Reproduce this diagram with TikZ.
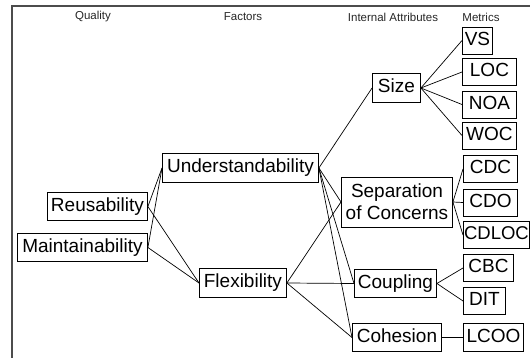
\documentclass[tikz,border=0pt]{standalone}
\usepackage{fontspec}
\setmainfont{Liberation Sans}
\begin{document}
\begin{tikzpicture}[x=1pt,y=-1pt,
  box/.style={draw=black, line width=0.9pt, inner sep=0pt, anchor=west,
    font=\fontsize{19}{22}\selectfont, text height=13.7pt, text depth=4pt,
    minimum height=28.5pt, align=center},
  head/.style={font=\fontsize{11.5}{13}\selectfont, text=black!85, inner sep=0pt},
  conn/.style={draw=black, line width=0.7pt}]
\useasboundingbox (0,0) rectangle (530,358);
\draw[line width=1.4pt, draw=black!70] (12,358) -- (12,6) -- (531,6);
% headings
\node[head] (hq) at (93,17) {Quality};
\node[head] (hf) at (243,17) {Factors};
\node[head] (hi) at (393,17) {Internal Attributes};
\node[head] (hm) at (481,17) {Metrics};
% quality
\node[box, minimum width=100pt] (reu) at (47,206.5) {Reusability};
\node[box, minimum width=130pt] (mai) at (17,247.5) {Maintainability};
% factors
\node[box, minimum width=156pt] (und) at (162,168) {Understandability};
\node[box, minimum width=87pt] (fle) at (199,283) {Flexibility};
% internal attributes
\node[box, minimum width=48pt] (siz) at (372,88) {Size};
\node[box, minimum width=111pt, minimum height=50pt, text height=, text depth=] (soc) at (341,202) {Separation\\of Concerns};
\node[box, minimum width=82pt] (cou) at (354,283.5) {Coupling};
\node[box, minimum width=89pt] (coh) at (352,337.5) {Cohesion};
% metrics
\node[box, minimum width=30pt, minimum height=27pt] (vs) at (462,40.5) {VS};
\node[box, minimum width=54pt, minimum height=27pt] (loc) at (462,72) {LOC};
\node[box, minimum width=54pt, minimum height=27pt] (noa) at (462,104.5) {NOA};
\node[box, minimum width=54pt, minimum height=27pt] (woc) at (462,135.5) {WOC};
\node[box, minimum width=54pt, minimum height=27pt] (cdc) at (463,169) {CDC};
\node[box, minimum width=54pt, minimum height=27pt] (cdo) at (463,202.5) {CDO};
\node[box, minimum width=66pt, minimum height=27pt, font=\fontsize{18.5}{22}\selectfont] (cdl) at (463,235) {CDLOC};
\node[box, minimum width=50pt, minimum height=27pt] (cbc) at (463,268) {CBC};
\node[box, minimum width=42pt, minimum height=27pt] (dit) at (463,301) {DIT};
\node[box, minimum width=60pt] (lco) at (463,337.5) {LCOO};
% connectors
\draw[conn] (reu.east) -- (und.west);
\draw[conn] (reu.east) -- (fle.west);
\draw[conn] (mai.east) -- (und.west);
\draw[conn] (mai.east) -- (fle.west);
\draw[conn] (und.east) -- (siz.west);
\draw[conn] (und.east) -- (soc.west);
\draw[conn] (und.east) -- (cou.west);
\draw[conn] (und.east) -- (coh.west);
\draw[conn] (fle.east) -- (soc.west);
\draw[conn] (fle.east) -- (cou.west);
\draw[conn] (fle.east) -- (coh.west);
\draw[conn] (siz.east) -- (vs.west);
\draw[conn] (siz.east) -- (loc.west);
\draw[conn] (siz.east) -- (noa.west);
\draw[conn] (siz.east) -- (woc.west);
\draw[conn] (soc.east) -- (cdc.west);
\draw[conn] (soc.east) -- (cdo.west);
\draw[conn] (soc.east) -- (cdl.west);
\draw[conn] (cou.east) -- (cbc.west);
\draw[conn] (cou.east) -- (dit.west);
\draw[conn] (coh.east) -- (lco.west);
\end{tikzpicture}
\end{document}
